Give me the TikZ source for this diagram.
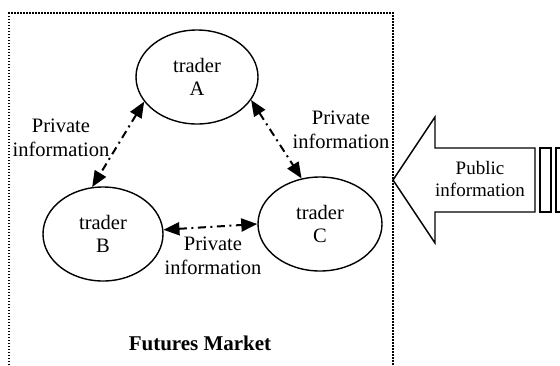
\documentclass[tikz,border=0pt]{standalone}
\usepackage{fontspec}
\setmainfont{Liberation Serif}
\usetikzlibrary{arrows.meta,positioning,shapes.geometric}

\begin{document}
\begin{tikzpicture}[x=1pt,y=-1pt,>={Triangle[length=16pt,width=13pt]},
    trader/.style={draw,ellipse,line width=1.4pt,inner sep=0pt,align=center,
      font=\fontsize{20.5}{23}\selectfont},
    info/.style={<->,line width=2pt,dash pattern=on 8pt off 4.5pt on 2pt off 4.5pt},
    lbl/.style={align=center,inner sep=0pt,font=\fontsize{20.5}{23.5}\selectfont}]
        \useasboundingbox (0,0) rectangle (560,365);
        % market boundary, open at the bottom
        \draw[line width=1.5pt,dash pattern=on 1.5pt off 1.5pt]
          (9,365) -- (9,13) -- (393,13) -- (393,365);
        \node[trader,minimum width=122pt,minimum height=94pt] (A) at (197,77) {trader\\A};
        \node[trader,minimum width=120pt,minimum height=94pt] (B) at (103,234) {trader\\B};
        \node[trader,minimum width=124pt,minimum height=94pt] (C) at (320,224) {trader\\C};
        \draw[info] (A.205) -- (B.103);
        \draw[info] (A.337) -- (C.112);
        \draw[info] (B.4) -- (C.180);
        \node[lbl] (privab) at (61,138) {Private\\information};
        \node[lbl] (privac) at (341,130) {Private\\information};
        \node[lbl] (privbc) at (213,256) {Private\\information};
        % public information arrow
        \draw[line width=1.4pt,line join=miter]
          (393,180) -- (435,117) -- (435,148) -- (535,148) -- (535,212)
          -- (435,212) -- (435,243) -- cycle;
        \draw[line width=1.4pt] (540,148) rectangle (551,212);
        \draw[line width=1.4pt] (556,148) rectangle (566,212);
        \node[align=center,inner sep=0pt,font=\fontsize{19}{21.5}\selectfont] (pub) at (480,179)
          {Public\\information};
        \node[font=\fontsize{21}{24}\selectfont\bfseries] (mkt) at (200,343) {Futures Market};
\end{tikzpicture}
\end{document}
